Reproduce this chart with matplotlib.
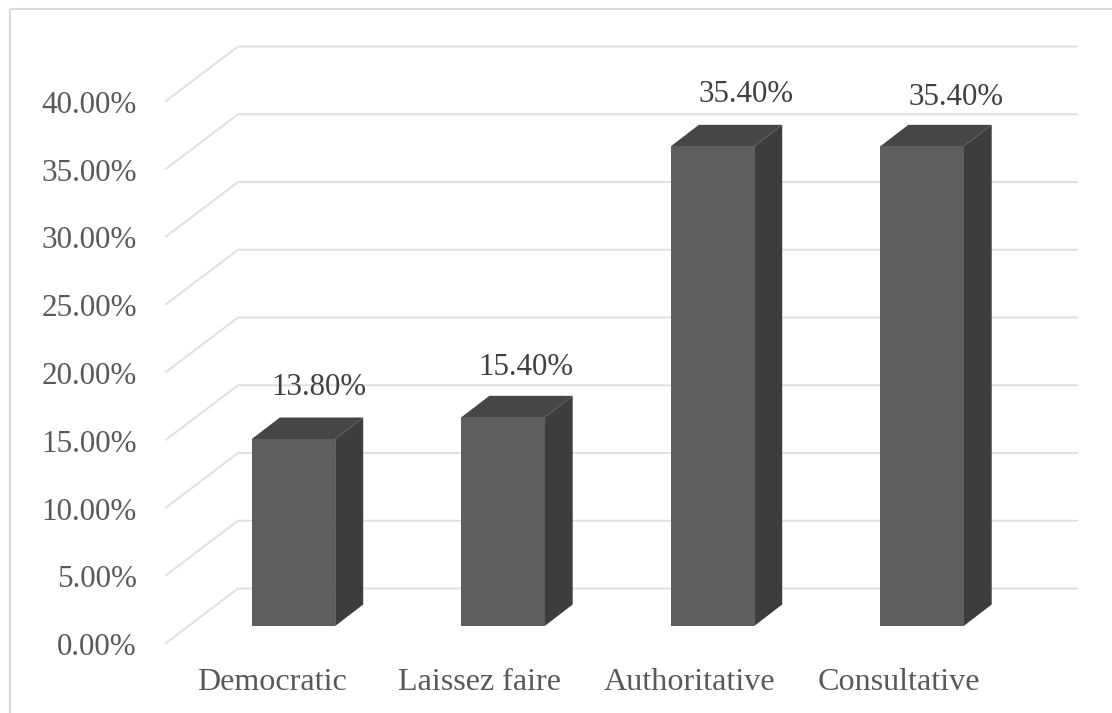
import matplotlib
matplotlib.use('Agg')
import matplotlib.pyplot as plt
from matplotlib.patches import Polygon

# Share of respondents per leadership style
categories = ['Democratic', 'Laissez faire', 'Authoritative', 'Consultative']
values = [13.8, 15.4, 35.4, 35.4]
value_labels = ['13.80%', '15.40%', '35.40%', '35.40%']
y_ticks = [0, 5, 10, 15, 20, 25, 30, 35, 40]

W, H = 1112, 713
BAR_X0 = 293.5      # pixel centre of the first bar
SLOT = 209.5        # pixels from one bar to the next
BASE_Y = 626.0      # pixel row of value 0 at the bar front
PX_PER_PCT = 13.55


def dx(px):
    return px / SLOT


def dy(px):
    return px / PX_PER_PCT


plt.rcParams['font.family'] = ['Liberation Serif', 'DejaVu Serif']
fig = plt.figure(figsize=(W / 100, H / 100), dpi=100, facecolor='white')
ax = fig.add_axes([0, 0, 1, 1])
ax.set_xlim(-BAR_X0 / SLOT, (W - BAR_X0) / SLOT)
ax.set_ylim((BASE_Y - H) / PX_PER_PCT, BASE_Y / PX_PER_PCT)
ax.axis('off')

# outer chart border, open on the right and at the bottom
border = dict(color='#d9d9d9', lw=1.5, solid_capstyle='butt')
ax.plot([dx(10 - BAR_X0), dx(10 - BAR_X0)], [dy(BASE_Y - 9), dy(BASE_Y - H)], **border)
ax.plot([dx(10 - BAR_X0), dx(W - BAR_X0)], [dy(BASE_Y - 9), dy(BASE_Y - 9)], **border)

# walls of the 3d box: slanted side gridline plus the back gridline
side_x = dx(166 - BAR_X0)
back_x = dx(238 - BAR_X0)
end_x = dx(1077 - BAR_X0)
for t in y_ticks:
    front_y = t + dy(BASE_Y - 643)
    back_y = t + dy(BASE_Y - 588.5)
    ax.plot([side_x, back_x, end_x], [front_y, back_y, back_y],
            color='#e0e0e0', lw=1.4, zorder=1, solid_joinstyle='miter')
    ax.text(dx(137 - BAR_X0), front_y - dy(4.5), '%.2f%%' % t, ha='right', va='center',
            fontsize=22.4, color='#595959')

# bars with oblique top and side faces
half_w = dx(41.7)
depth_x = dx(28)
depth_y = dy(21.5)
for i, v in enumerate(values):
    l, r = i - half_w, i + half_w
    ax.add_patch(Polygon([(r, 0), (r + depth_x, depth_y), (r + depth_x, v + depth_y), (r, v)],
                         closed=True, fc='#3d3d3d', ec='none', zorder=3))
    ax.add_patch(Polygon([(l, v), (r, v), (r + depth_x, v + depth_y), (l + depth_x, v + depth_y)],
                         closed=True, fc='#464646', ec='none', zorder=3))
    ax.add_patch(Polygon([(l, 0), (r, 0), (r, v), (l, v)],
                         closed=True, fc='#5e5e5e', ec='none', zorder=4))

# value labels sit above and to the right of each bar
label_dx = [25.5, 22.5, 33.5, 33.5]
label_dy = [52, 50, 52, 49]
for i, v in enumerate(values):
    ax.text(i + dx(label_dx[i]), v + dy(label_dy[i]), value_labels[i], ha='center', va='center',
            fontsize=22.2, color='#404040', zorder=5)

# category labels
cat_dx = [-21.5, -23, -23, -23.5]
for i, c in enumerate(categories):
    ax.text(i + dx(cat_dx[i]), dy(BASE_Y - 682), c, ha='center', va='center',
            fontsize=23.1, color='#595959')

fig.savefig('out.png', dpi=100)
